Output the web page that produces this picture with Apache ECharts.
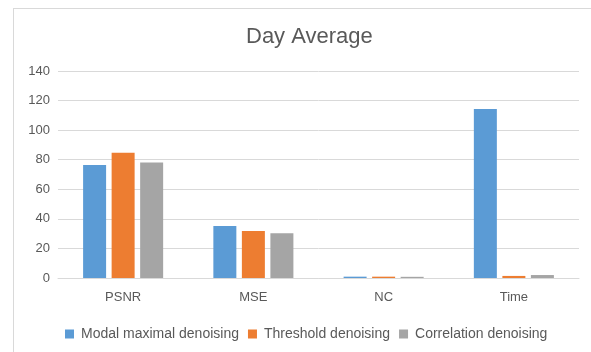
<!DOCTYPE html>
<html>
<head>
<meta charset="utf-8">
<script src="https://cdn.jsdelivr.net/npm/echarts@6/dist/echarts.min.js"></script>
<style>
  html, body { margin: 0; padding: 0; background: #fff; }
  #frame { position: absolute; left: 13px; top: 8px; width: 600px; height: 400px; border: 1px solid #d9d9d9; box-sizing: border-box; }
  #chart { position: absolute; left: 0; top: 0; width: 591px; height: 352px; }
</style>
</head>
<body>
<div id="frame"></div>
<div id="chart"></div>
<script>
const categories = ['PSNR', 'MSE', 'NC', 'Time'];
const modalMaximal = [76.4, 35.2, 0.9, 114.3];
const thresholdDen = [84.7, 31.8, 0.9, 1.4];
const correlationDen = [78.2, 30.2, 0.8, 2.0];
const yTicks = { min: 0, max: 140, interval: 20 };

const chart = echarts.init(document.getElementById('chart'));
const font = 'Liberation Sans, Arial, sans-serif';
chart.setOption({
  animation: false,
  textStyle: { fontFamily: font },
  title: {
    text: 'Day Average',
    left: 241,
    top: 21,
    textStyle: { fontSize: 22, fontWeight: 'normal', color: '#595959', fontFamily: font }
  },
  legend: {
    top: 322,
    left: 60,
    itemWidth: 9,
    itemHeight: 9,
    itemGap: 9,
    icon: 'rect',
    textStyle: { fontSize: 14, color: '#595959', padding: [0, 0, 0, 2] },
    data: ['Modal maximal denoising', 'Threshold denoising', 'Correlation denoising']
  },
  grid: { left: 58, right: 12, top: 71, bottom: 74 },
  xAxis: {
    type: 'category',
    data: categories,
    axisLine: { lineStyle: { color: '#d9d9d9' } },
    axisTick: { show: false },
    axisLabel: { color: '#595959', fontSize: 13, margin: 13 }
  },
  yAxis: {
    type: 'value',
    min: yTicks.min,
    max: yTicks.max,
    interval: yTicks.interval,
    axisLine: { show: false },
    axisTick: { show: false },
    splitLine: { lineStyle: { color: '#d9d9d9' } },
    axisLabel: { color: '#595959', fontSize: 13, margin: 8 }
  },
  series: [
    { name: 'Modal maximal denoising', type: 'bar', data: modalMaximal, itemStyle: { color: '#5B9BD5' }, barWidth: 23, barGap: '24%' },
    { name: 'Threshold denoising', type: 'bar', data: thresholdDen, itemStyle: { color: '#ED7D31' }, barWidth: 23, barGap: '24%' },
    { name: 'Correlation denoising', type: 'bar', data: correlationDen, itemStyle: { color: '#A5A5A5' }, barWidth: 23, barGap: '24%' }
  ]
});
</script>
</body>
</html>
